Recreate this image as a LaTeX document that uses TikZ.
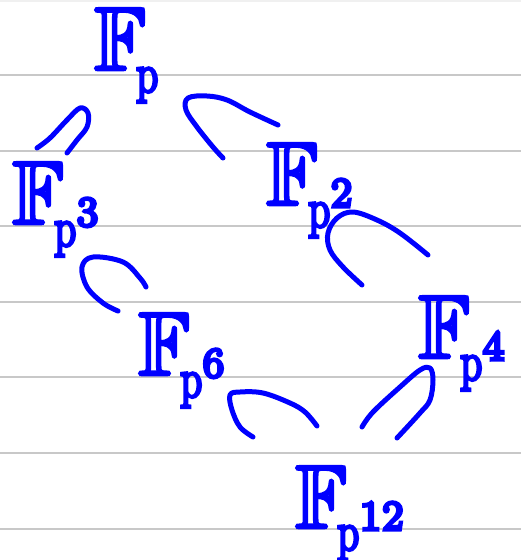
\documentclass[tikz,border=0pt]{standalone}
\usepackage{amssymb}
\definecolor{ink}{RGB}{0,0,255}
\definecolor{rule}{RGB}{200,200,200}
\newcommand\inkw[2]{\special{pdf:literal direct 2 Tr #1 w}#2\special{pdf:literal direct 0 Tr 1 w}}
% a hand-lettered finite field: tall F, compact subscript set low
\newcommand\subp[1]{\raisebox{-22pt}{\scalebox{4}[5.5]{\inkw{0.55}{$\mathrm{p}^{\scalebox{1.4}[1.1]{$\scriptstyle #1$}}$}}}}
\newcommand\bigF{\scalebox{8.5}[9]{\inkw{0.3}{$\mathbb{F}$}}}
\newcommand\fieldlbl[1]{\bigF\kern-10pt\subp{#1}}
\newcommand\fieldlblp{\bigF\kern-10pt\raisebox{-22pt}{\scalebox{4}[5.5]{\inkw{0.55}{$\mathrm{p}$}}}}
\tikzset{
  ruling/.style={draw=rule, line width=1.3pt},
  inclusion/.style={draw=ink, line width=5pt, line cap=round, line join=round},
  field/.style={anchor=base west, inner sep=0pt, text=ink},
}
\begin{document}
\begin{tikzpicture}[x=1pt,y=-1pt]
\useasboundingbox (0,0) rectangle (521,560);
\fill[white] (0,0) rectangle (521,560);
\fill[black!6] (0,0) rectangle (521,1.5);
\foreach \yy in {75,151,226,302,377,453,529}
  \draw[ruling] (0,\yy) -- (521,\yy);

\node[field] (fp)   at (94,70)  {\fieldlblp};
\node[field] (fp3)  at (12,224) {\fieldlbl{3}};
\node[field] (fp2)  at (266,205){\fieldlbl{2}};
\node[field] (fp6)  at (138,375){\fieldlbl{6}};
\node[field] (fp4)  at (418,358){\fieldlbl{4}};
\node[field] (fp12) at (295,528){\fieldlbl{12}};

% inclusion arcs (hand-drawn subset signs)
\draw[inclusion] plot[smooth, tension=0.6] coordinates {(37,148) (50,138) (67,120) (80,108) (88,113) (87,127) (77,140) (67,153)};
\draw[inclusion] plot[smooth, tension=0.6] coordinates {(223,158) (213,147) (197,127) (186,110) (188,98) (207,96) (227,100) (250,112) (278,125)};
\draw[inclusion] plot[smooth, tension=0.6] coordinates {(428,255) (400,233) (377,220) (353,212) (337,218) (328,233) (330,250) (343,267) (362,285)};
\draw[inclusion] plot[smooth, tension=0.6] coordinates {(146,287) (140,278) (123,262) (93,257) (82,267) (87,287) (103,303) (118,311)};
\draw[inclusion] plot[smooth, tension=0.6] coordinates {(253,437) (240,427) (232,410) (230,395) (240,392) (263,393) (290,403) (305,412) (317,426)};
\draw[inclusion] plot[smooth, tension=0.6] coordinates {(362,427) (373,412) (400,387) (420,370) (430,368) (433,380) (430,400) (420,413) (397,438)};
\end{tikzpicture}
\end{document}
